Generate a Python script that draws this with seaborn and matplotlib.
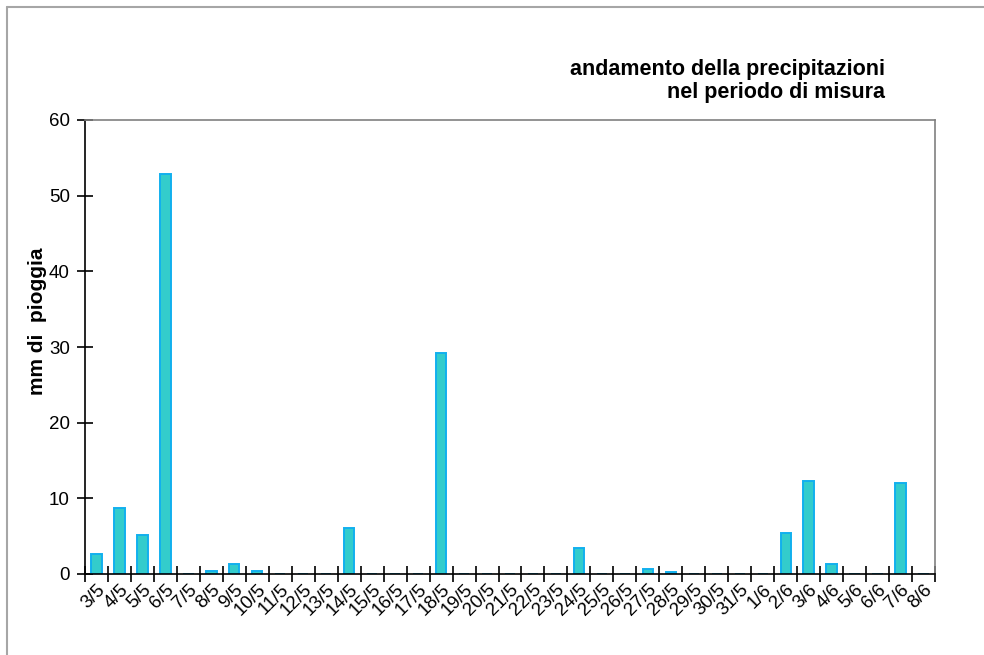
import numpy as np
import pandas as pd
import matplotlib
matplotlib.use("Agg")
import matplotlib.pyplot as plt
from matplotlib.lines import Line2D
import seaborn as sns

# Daily rainfall (mm) from 3 May to 8 June
days = ["3/5", "4/5", "5/5", "6/5", "7/5", "8/5", "9/5", "10/5", "11/5", "12/5",
        "13/5", "14/5", "15/5", "16/5", "17/5", "18/5", "19/5", "20/5", "21/5",
        "22/5", "23/5", "24/5", "25/5", "26/5", "27/5", "28/5", "29/5", "30/5",
        "31/5", "1/6", "2/6", "3/6", "4/6", "5/6", "6/6", "7/6", "8/6"]
rain_mm = [2.6, 8.7, 5.1, 52.8, 0, 0.4, 1.3, 0.4, 0, 0,
           0, 6.1, 0, 0, 0, 29.2, 0, 0, 0,
           0, 0, 3.4, 0, 0, 0.6, 0.25, 0, 0,
           0, 0, 5.4, 12.3, 1.3, 0, 0, 12.0, 0]
y_ticks = [0, 10, 20, 30, 40, 50, 60]

df = pd.DataFrame({"giorno": days, "pioggia": rain_mm})

sns.set_theme(style="white")
plt.rcParams["font.family"] = ["Liberation Sans", "DejaVu Sans"]

fig = plt.figure(figsize=(9.84, 6.55), dpi=100)
ax = fig.add_axes([85 / 984, 1 - 574 / 655, 850 / 984, 454 / 655])

sns.barplot(data=df, x="giorno", y="pioggia", order=days, ax=ax,
            color="#33CCCC", edgecolor="#12B0EE", linewidth=1.4,
            width=0.45, saturation=1)

n = len(days)
ax.set_xlim(-0.5, n - 0.5)
ax.set_ylim(0, 60)
ax.set_yticks(y_ticks)
ax.set_yticklabels([str(v) for v in y_ticks], fontsize=13.5, color="black")

# labels under each day, tick marks on the day boundaries
ax.set_xticks(np.arange(n))
ax.set_xticklabels(days, rotation=45, ha="right", rotation_mode="anchor",
                   fontsize=13.5, color="black")
ax.set_xticks(np.arange(-0.5, n, 1), minor=True)
ax.tick_params(axis="x", which="major", length=0, pad=5)
ax.tick_params(axis="x", which="minor", length=12, width=1.2,
               direction="inout", color="black", bottom=True)
ax.tick_params(axis="y", which="major", length=12, width=1.2,
               direction="inout", color="black", left=True, pad=5)

for side in ("left", "bottom"):
    ax.spines[side].set_color("black")
    ax.spines[side].set_linewidth(1.2)
for side in ("top", "right"):
    ax.spines[side].set_visible(True)
    ax.spines[side].set_color("#808080")
    ax.spines[side].set_linewidth(1.2)

ax.set_xlabel("")
ax.set_ylabel("mm di  pioggia", fontsize=15, fontweight="bold", color="black")
ax.yaxis.set_label_coords(-0.045, 0.557)

title_font = ["Liberation Sans Narrow", "Liberation Sans", "DejaVu Sans"]
fig.text(885 / 984, 1 - 75 / 655, "andamento della precipitazioni",
         ha="right", va="baseline", fontsize=15.5, fontweight="bold",
         family=title_font, color="black")
fig.text(885 / 984, 1 - 98 / 655, "nel periodo di misura",
         ha="right", va="baseline", fontsize=15.5, fontweight="bold",
         family=title_font, color="black")

# frame lines along the top and left of the figure
fig.add_artist(Line2D([7 / 984, 1.0], [1 - 7 / 655, 1 - 7 / 655],
                      transform=fig.transFigure, color="#A6A6A6", linewidth=1.5))
fig.add_artist(Line2D([7 / 984, 7 / 984], [0.0, 1 - 7 / 655],
                      transform=fig.transFigure, color="#A6A6A6", linewidth=1.5))

fig.savefig("out.png", dpi=100, facecolor="white")
